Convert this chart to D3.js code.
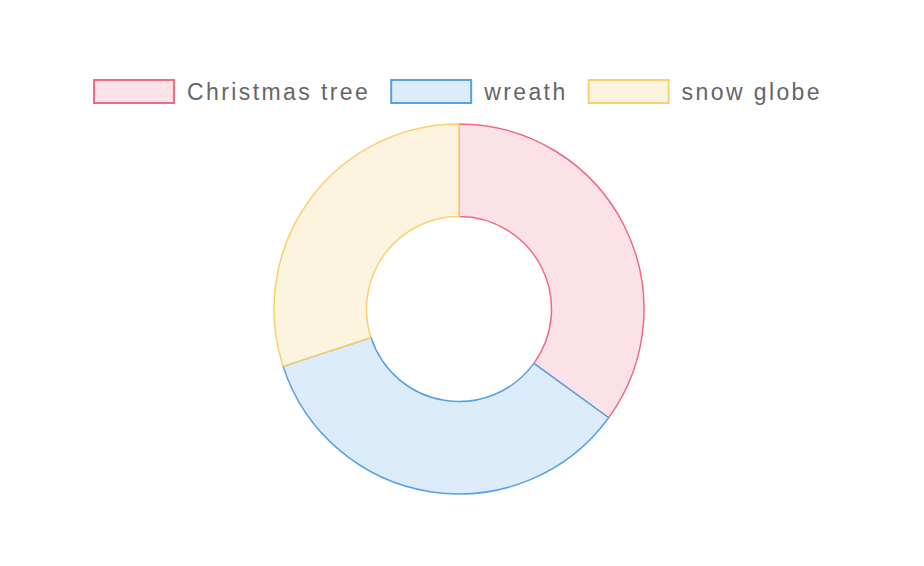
<!DOCTYPE html>
<html><head><meta charset="utf-8">
<script src="https://cdn.jsdelivr.net/npm/d3@7"></script>
<style>html,body{margin:0;padding:0;background:#fff;}</style>
</head><body>
<svg id="chart" width="924" height="566"></svg>
<script>
const categories = ["Christmas tree", "wreath", "snow globe"];
const values = [35, 35, 30];
const borderColors = ["rgb(240,106,133)", "rgb(84,162,230)", "rgb(250,208,110)"];
const fillColors = ["rgba(250,226,232,1)", "rgba(221,236,250,1)", "rgba(253,244,224,1)"];

const svg = d3.select("#chart");
const cx = 459, cy = 309, outerR = 185, innerR = 92.5;

const pie = d3.pie().sort(null).value(d => d)(values);
const arc = d3.arc().innerRadius(innerR).outerRadius(outerR);
const g = svg.append("g").attr("transform", `translate(${cx},${cy})`);
g.selectAll("path").data(pie).join("path")
  .attr("d", arc)
  .attr("fill", (d, i) => fillColors[i])
  .attr("stroke", (d, i) => borderColors[i])
  .attr("stroke-width", 1.5)
  .attr("stroke-linejoin", "bevel");

// legend
const boxW = 80, boxH = 23, textGap = 13, itemGap = 21, legendY = 80;
const leg = svg.append("g");
const items = leg.selectAll("g").data(categories).join("g");
items.append("rect")
  .attr("width", boxW).attr("height", boxH)
  .attr("fill", (d, i) => fillColors[i])
  .attr("stroke", (d, i) => borderColors[i])
  .attr("stroke-width", 2);
items.append("text")
  .attr("x", boxW + textGap).attr("y", boxH / 2)
  .attr("dy", "0.35em")
  .attr("font-family", "Liberation Sans, Arial, sans-serif")
  .attr("font-size", 23)
  .attr("letter-spacing", "2.4px")
  .attr("fill", "#666")
  .text(d => d);
let widths = [];
items.each(function () {
  const t = d3.select(this).select("text").node().getComputedTextLength();
  widths.push(boxW + textGap + t);
});
const total = d3.sum(widths) + itemGap * (widths.length - 1);
let x = 458 - total / 2;
items.each(function (d, i) {
  d3.select(this).attr("transform", `translate(${x},${legendY})`);
  x += widths[i] + itemGap;
});
</script>
</body></html>
